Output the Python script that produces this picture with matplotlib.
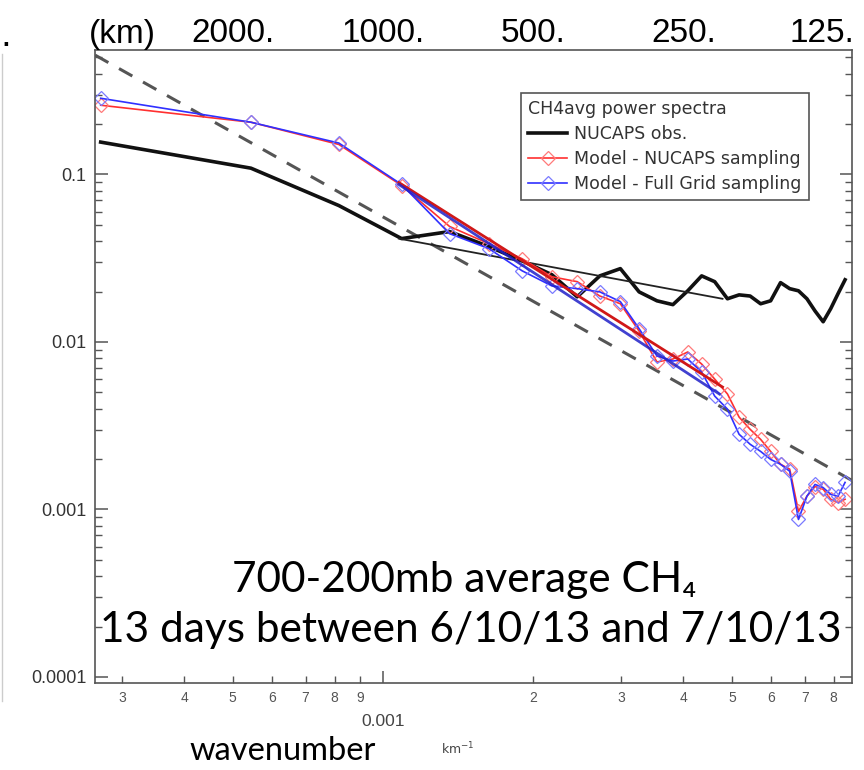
import matplotlib.pyplot as plt
from matplotlib.lines import Line2D
from matplotlib.ticker import LogLocator, FuncFormatter, NullFormatter
from matplotlib.transforms import ScaledTranslation
import numpy as np

# --------------------------------------------------------------------------------------------------
# data
# --------------------------------------------------------------------------------------------------

# wavenumber of each spectral point (km^-1)
wavenumber = [2.72e-4, 5.44e-4, 8.16e-4, 1.09e-3, 1.36e-3, 1.63e-3, 1.90e-3, 2.18e-3,
              2.45e-3, 2.72e-3, 2.99e-3, 3.26e-3, 3.54e-3, 3.81e-3, 4.08e-3, 4.35e-3,
              4.62e-3, 4.90e-3, 5.17e-3, 5.44e-3, 5.71e-3, 5.98e-3, 6.26e-3, 6.53e-3,
              6.80e-3, 7.07e-3, 7.34e-3, 7.62e-3, 7.89e-3, 8.16e-3, 8.43e-3]

nucaps_obs = [0.156, 0.109, 0.0652, 0.0414, 0.0456, 0.0371, 0.0305, 0.0252,
              0.0186, 0.0248, 0.0274, 0.0199, 0.0176, 0.0167, 0.0202, 0.0248,
              0.0229, 0.0181, 0.0191, 0.0188, 0.0169, 0.0176, 0.0226, 0.0208,
              0.0202, 0.0181, 0.0153, 0.0132, 0.0158, 0.0194, 0.0235]

model_nucaps = [0.259, 0.205, 0.151, 0.0859, 0.0489, 0.0386, 0.0314, 0.0245,
                0.0229, 0.0188, 0.0169, 0.0116, 0.00759, 0.00791, 0.00871, 0.00738,
                0.00600, 0.00489, 0.00356, 0.00301, 0.00262, 0.00222, 0.00186, 0.00174,
                0.000973, 0.00120, 0.00137, 0.00132, 0.00115, 0.00110, 0.00115]

model_full = [0.285, 0.205, 0.154, 0.0871, 0.0443, 0.0361, 0.0266, 0.0216,
              0.0208, 0.0199, 0.0174, 0.0120, 0.00824, 0.00769, 0.00791, 0.00661,
              0.00475, 0.00397, 0.00281, 0.00245, 0.00222, 0.00199, 0.00186, 0.00169,
              0.000871, 0.00120, 0.00141, 0.00135, 0.00123, 0.00120, 0.00145]

# straight fits (end points)
fit_obs_k = [1.076e-3, 4.79e-3]
fit_obs_p = [0.0414, 0.0181]
fit_nucaps_k = [1.076e-3, 4.79e-3]
fit_nucaps_p = [0.0895, 0.00538]
fit_full_k = [1.076e-3, 4.72e-3]
fit_full_p = [0.0871, 0.00489]

# -5/3 reference line (end points)
ref_k = [2.65e-4, 8.7e-3]
ref_p = [0.516, 0.00149]

# top axis: wavelength labels
top_k = [5e-4, 1e-3, 2e-3, 4e-3, 8e-3]
top_labels = ['2000.', '1000.', '500.', '250.', '125.']

# --------------------------------------------------------------------------------------------------
# plot
# --------------------------------------------------------------------------------------------------

fig = plt.figure(figsize=(8.64, 7.7), dpi=100)
ax = fig.add_axes([0.110, 0.113, 0.876, 0.822])

ax.plot(ref_k, ref_p, color='#555555', lw=2.2, dashes=(5, 4))
l_obs, = ax.plot(wavenumber, nucaps_obs, color='#111111', lw=2.6)
ax.plot(fit_obs_k, fit_obs_p, color='#222222', lw=1.3)

l_nuc, = ax.plot(wavenumber, model_nucaps, color='#ff3030', lw=1.2, marker='D', ms=7,
                 mfc='none', mec='#ff7a7a', mew=0.9)
l_full, = ax.plot(wavenumber, model_full, color='#3030ff', lw=1.2, marker='D', ms=7,
                  mfc='none', mec='#7a7aff', mew=0.9)
ax.plot(fit_nucaps_k, fit_nucaps_p, color='#d01818', lw=2.0)
ax.plot(fit_full_k, fit_full_p, color='#2020c8', lw=2.0, alpha=0.85)

ax.set_xscale('log')
ax.set_yscale('log')
ax.set_xlim(2.65e-4, 8.7e-3)
ax.set_ylim(9.2e-5, 0.553)

for s in ax.spines.values():
    s.set_color('#555555')
    s.set_linewidth(1.2)

ax.xaxis.set_minor_locator(LogLocator(base=10, subs=range(2, 10)))
ax.xaxis.set_minor_formatter(FuncFormatter(
    lambda v, p: f"{round(v / 10 ** np.floor(np.log10(v))):.0f}"))
ax.xaxis.set_major_formatter(FuncFormatter(lambda v, p: f"{v:g}"))
ax.yaxis.set_major_formatter(FuncFormatter(lambda v, p: f"{v:g}"))
ax.yaxis.set_minor_formatter(NullFormatter())

ax.tick_params(which='both', direction='in', top=True, right=True, color='#555555')
ax.tick_params(which='major', length=9, width=1.1)
ax.tick_params(which='minor', length=5, width=1.0)
ax.tick_params(axis='y', which='major', labelsize=13, labelcolor='#333333', pad=6)
ax.tick_params(axis='x', which='minor', labelsize=10, labelcolor='#555555', pad=6)
ax.tick_params(axis='x', which='major', labelsize=12.5, labelcolor='#444444', pad=22)
for t in ax.get_xticklabels(which='both') + ax.get_yticklabels():
    t.set_family('Liberation Sans')

# top axis with wavelength in km
ax2 = ax.twiny()
ax2.set_xscale('log')
ax2.set_xlim(ax.get_xlim())
ax2.set_xticks(top_k, top_labels)
ax2.xaxis.set_minor_locator(plt.NullLocator())
ax2.tick_params(axis='x', length=0, pad=1, labelsize=24, labelcolor='black')
for t in ax2.get_xticklabels():
    t.set_family('Liberation Sans')
# keep the last label inside the picture, as in the original
last = ax2.get_xticklabels()[-1]
last.set_transform(last.get_transform() + ScaledTranslation(-12 / 100, 0, fig.dpi_scale_trans))
for s in ax2.spines.values():
    s.set_visible(False)
fig.text(122 / 864, 1 - 34 / 770, '(km)', ha='center', va='center', fontsize=24,
         family='Liberation Sans')

leg = ax.legend([l_obs, l_nuc, l_full],
                ['NUCAPS obs.', 'Model - NUCAPS sampling', 'Model - Full Grid sampling'],
                title='CH4avg power spectra', alignment='left',
                loc='upper right', bbox_to_anchor=(0.943, 0.932), borderaxespad=0,
                fancybox=False, edgecolor='#555555', framealpha=1,
                prop={'family': 'DejaVu Sans', 'size': 12.5},
                handlelength=2.3, handletextpad=0.4, labelspacing=0.4,
                borderpad=0.4)
leg.get_title().set_fontsize(12.5)
leg.get_title().set_color('#333333')
for t in leg.get_texts():
    t.set_color('#333333')
leg.get_frame().set_linewidth(1.2)

fam = ['Lato', 'DejaVu Sans']
ax.text(0.488, 0.163, '700-200mb average CH\u2084', transform=ax.transAxes,
        ha='center', va='center', fontsize=30.5, family=fam)
ax.text(0.496, 0.084, '13 days between 6/10/13 and 7/10/13', transform=ax.transAxes,
        ha='center', va='center', fontsize=30.5, family=fam)

fig.text(283 / 864, 1 - 751 / 770, 'wavenumber', ha='center', va='center', fontsize=23.5,
         family=fam)
fig.text(458 / 864, 1 - 749 / 770, 'km$^{-1}$', ha='center', va='center', fontsize=9,
         color='#444444')

# edge of the neighbouring panel
fig.add_artist(Line2D([0.002, 0.002], [0.09, 0.93], color='#cccccc', lw=1,
                      transform=fig.transFigure))
fig.text(0.0, 1 - 36 / 770, '.', ha='left', va='center', fontsize=24)

fig.savefig('out.png', dpi=100)
